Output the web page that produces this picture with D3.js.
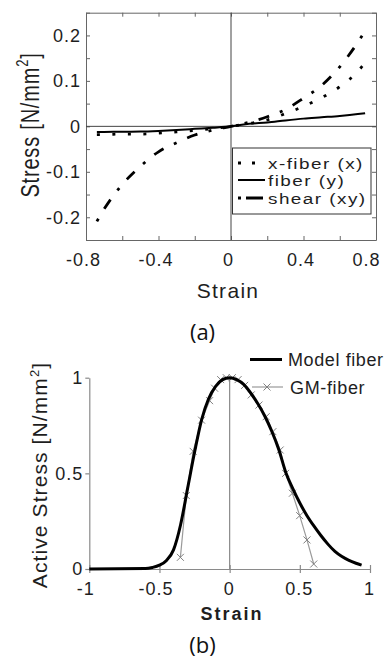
<!DOCTYPE html>
<html>
<head>
<meta charset="utf-8">
<script src="https://cdnjs.cloudflare.com/ajax/libs/d3/7.8.5/d3.min.js"></script>
<style>
body { margin:0; background:#fff; }
svg { display:block; font-family:"Liberation Sans", Arial, sans-serif; }
.axisA path, .axisA line { stroke:#666; stroke-width:1; }
.axisB path, .axisB line { stroke:#8a8a8a; stroke-width:1.2; }
.axisA text, .axisB text { font-size:18px; fill:#1e1e1e; letter-spacing:1px; }
.zeroA { stroke:#444; stroke-width:1; }
.zeroB { stroke:#8a8a8a; stroke-width:1.2; }
.title { fill:#1e1e1e; }
.caption { font-family:"Open Sans", sans-serif; font-size:22px; fill:#111; }
.x-fiber { fill:none; stroke:#000; stroke-width:2.8; stroke-dasharray:3,12.5; }
.fiber { fill:none; stroke:#000; stroke-width:2; }
.shear { fill:none; stroke:#000; stroke-width:2.8; stroke-dasharray:3,11.5,11,11.5; }
.model-line { fill:none; stroke:#000; stroke-width:3; }
.gm-line { fill:none; stroke:#9a9a9a; stroke-width:1.2; }
.gm-mark { stroke:#808080; stroke-width:1; }
</style>
</head>
<body>
<div id="chart"></div>
<script>
/* (a) stress vs strain */
var strainA = [-0.74, -0.7, -0.6, -0.5, -0.4, -0.3, -0.2, -0.1, 0, 0.1, 0.2, 0.3, 0.4, 0.5, 0.6, 0.7, 0.74]
var xFiberA = [-0.018, -0.018, -0.017, -0.017, -0.015, -0.012, -0.009, -0.005, 0, 0.006, 0.014, 0.028, 0.044, 0.063, 0.087, 0.121, 0.14]
var fiberA = [-0.0125, -0.0123, -0.012, -0.0115, -0.01, -0.008, -0.0055, -0.003, 0, 0.0055, 0.0085, 0.013, 0.017, 0.02, 0.023, 0.027, 0.029]
var shearA = [-0.209, -0.182, -0.128, -0.088, -0.056, -0.036, -0.019, -0.008, 0, 0.009, 0.021, 0.037, 0.062, 0.09, 0.131, 0.185, 0.21]
var xTicksA = [-0.8, -0.6, -0.4, -0.2, 0, 0.2, 0.4, 0.6, 0.8]
var xLabelsA = [-0.8, -0.4, 0, 0.4, 0.8]
var yTicksA = [-0.25, -0.2, -0.15, -0.1, -0.05, 0, 0.05, 0.1, 0.15, 0.2, 0.25]
var yLabelsA = [-0.2, -0.1, 0, 0.1, 0.2]
var legendA = ["x-fiber (x)", "fiber (y)", "shear (xy)"]

/* (b) active stress vs strain */
var strainModel = [-1, -0.6, -0.55, -0.5, -0.45, -0.4, -0.35, -0.3, -0.25, -0.2, -0.15, -0.1, -0.05, 0, 0.05, 0.1, 0.15, 0.2, 0.25, 0.3, 0.35, 0.4, 0.45, 0.5, 0.55, 0.6, 0.65, 0.7, 0.75, 0.8, 0.85, 0.9, 0.94]
var stressModel = [0, 0.002, 0.008, 0.02, 0.045, 0.1, 0.23, 0.42, 0.61, 0.78, 0.89, 0.955, 0.99, 1.0, 0.99, 0.965, 0.92, 0.865, 0.8, 0.72, 0.625, 0.505, 0.42, 0.345, 0.28, 0.225, 0.175, 0.13, 0.092, 0.065, 0.045, 0.03, 0.02]
var strainGM = [-0.351, -0.309, -0.26, -0.2, -0.143, -0.107, -0.064, -0.024, 0.019, 0.06, 0.107, 0.154, 0.209, 0.26, 0.308, 0.36, 0.399, 0.447, 0.499, 0.551, 0.599]
var stressGM = [0.061, 0.384, 0.615, 0.778, 0.88, 0.945, 0.99, 1.0, 1.0, 0.99, 0.96, 0.91, 0.857, 0.796, 0.718, 0.622, 0.5, 0.396, 0.279, 0.152, 0.026]
var xTicksB = [-1, -0.5, 0, 0.5, 1]
var yTicksB = [0, 0.5, 1]
var legendB = ["Model fiber", "GM-fiber"]

var svg = d3.select("#chart").append("svg")
  .attr("width", 387)
  .attr("height", 659)

function hasValue(list, d) {
  return list.some(function(v) { return Math.abs(v - d) < 1e-9 })
}
function labelFrom(list) {
  return function(d) { return hasValue(list, d) ? String(d) : "" }
}
function addText(str, x, y, size, sx, rot) {
  return svg.append("text")
    .attr("class", "title")
    .attr("font-size", size)
    .attr("transform", "translate(" + x + "," + y + ") scale(" + sx + ",1)" + (rot ? " rotate(" + rot + ")" : ""))
    .text(str)
}

/* ---------- panel (a) ---------- */
var xA = d3.scaleLinear().domain([-0.8, 0.8]).range([86, 376])
var yA = d3.scaleLinear().domain([-0.25, 0.25]).range([240, 12.7])

var botA = svg.append("g")
  .attr("class", "axisA")
  .attr("transform", "translate(0," + yA(-0.25) + ")")
  .call(d3.axisBottom(xA).tickValues(xTicksA).tickSize(-4).tickSizeOuter(0).tickPadding(13).tickFormat(labelFrom(xLabelsA)))
botA.selectAll("text").attr("dx", "-3px")
botA.selectAll("text").filter(function(d) { return d === 0.8 })
  .attr("text-anchor", "end")
  .attr("dx", "4px")
svg.append("g")
  .attr("class", "axisA")
  .attr("transform", "translate(0," + yA(0.25) + ")")
  .call(d3.axisTop(xA).tickValues(xTicksA).tickSize(-4).tickSizeOuter(0).tickFormat(""))
svg.append("g")
  .attr("class", "axisA")
  .attr("transform", "translate(" + xA(-0.8) + ",0)")
  .call(d3.axisLeft(yA).tickValues(yTicksA).tickSize(-4).tickSizeOuter(0).tickPadding(5).tickFormat(labelFrom(yLabelsA)))
svg.append("g")
  .attr("class", "axisA")
  .attr("transform", "translate(" + xA(0.8) + ",0)")
  .call(d3.axisRight(yA).tickValues(yTicksA).tickSize(-4).tickSizeOuter(0).tickFormat(""))

svg.append("line")
  .attr("class", "zeroA")
  .attr("x1", xA(0)).attr("x2", xA(0))
  .attr("y1", yA(0.25)).attr("y2", yA(-0.25))
svg.append("line")
  .attr("class", "zeroA")
  .attr("x1", xA(-0.8)).attr("x2", xA(0.8))
  .attr("y1", yA(0)).attr("y2", yA(0))

function lineA(values) {
  return d3.line()
    .x(function(d, i) { return xA(strainA[i]) })
    .y(function(d) { return yA(d) })
    .curve(d3.curveMonotoneX)(values)
}
svg.append("path").attr("class", "fiber").attr("d", lineA(fiberA))
svg.append("path").attr("class", "x-fiber").attr("d", lineA(xFiberA))
svg.append("path").attr("class", "shear").attr("d", lineA(shearA))

/* legend (a) */
svg.append("rect")
  .attr("x", 232.5).attr("y", 148)
  .attr("width", 138.5).attr("height", 66)
  .attr("fill", "#fff")
  .attr("stroke", "#333")
  .attr("stroke-width", 1)
var legRowsA = [163, 180, 198]
var legClassA = ["x-fiber", "fiber", "shear"]
var legDashA = ["3,11", null, "3,5,17,10"]
legendA.forEach(function(name, i) {
  svg.append("line")
    .attr("class", legClassA[i])
    .attr("x1", 238).attr("x2", 265)
    .attr("y1", legRowsA[i]).attr("y2", legRowsA[i])
    .style("stroke-dasharray", legDashA[i])
  addText(name, 268, legRowsA[i] + 5.5, 15.5, 1.22, 0).attr("letter-spacing", "1.2px")
})

/* titles (a) */
addText("Strain", 228, 298, 21, 1, 0)
  .attr("text-anchor", "middle")
  .attr("letter-spacing", "1.3px")
var yTitleA = addText("", 38.5, 125, 20, 1.3, -90)
  .attr("text-anchor", "middle")
  .attr("letter-spacing", "0.8px")
yTitleA.append("tspan").text("Stress [N/mm")
yTitleA.append("tspan").attr("dy", -8).attr("font-size", 13).text("2")
yTitleA.append("tspan").attr("dy", 8).text("]")

svg.append("text")
  .attr("class", "caption")
  .attr("x", 202.5).attr("y", 340)
  .attr("text-anchor", "middle")
  .text("(a)")

/* ---------- panel (b) ---------- */
var xB = d3.scaleLinear().domain([-1, 1]).range([89.3, 370])
var yB = d3.scaleLinear().domain([0, 1]).range([569, 377.7])

var botB = svg.append("g")
  .attr("class", "axisB")
  .attr("transform", "translate(0," + yB(0) + ")")
  .call(d3.axisBottom(xB).tickValues(xTicksB).tickSize(4).tickSizeOuter(0).tickPadding(9).tickFormat(String))
botB.selectAll(".tick line").attr("y1", -4)
botB.selectAll("text").attr("dx", function(d) { return d < 0 ? "-4px" : "-1px" })
svg.append("g")
  .attr("class", "axisB")
  .attr("transform", "translate(" + xB(-1) + ",0)")
  .call(d3.axisLeft(yB).tickValues(yTicksB).tickSize(4).tickSizeOuter(0).tickPadding(2).tickFormat(String))

svg.append("line")
  .attr("class", "zeroB")
  .attr("x1", xB(0)).attr("x2", xB(0))
  .attr("y1", yB(0)).attr("y2", yB(1))

var gmLine = d3.line()
  .x(function(d, i) { return xB(strainGM[i]) })
  .y(function(d) { return yB(d) })
svg.append("path").attr("class", "gm-line").attr("d", gmLine(stressGM))

function xMark(cx, cy) {
  var s = 3.5
  svg.append("line").attr("class", "gm-mark")
    .attr("x1", cx - s).attr("x2", cx + s).attr("y1", cy - s).attr("y2", cy + s)
  svg.append("line").attr("class", "gm-mark")
    .attr("x1", cx - s).attr("x2", cx + s).attr("y1", cy + s).attr("y2", cy - s)
}
stressGM.forEach(function(d, i) { xMark(xB(strainGM[i]), yB(d)) })

var modelLine = d3.line()
  .x(function(d, i) { return xB(strainModel[i]) })
  .y(function(d) { return yB(d) })
  .curve(d3.curveMonotoneX)
svg.append("path").attr("class", "model-line").attr("d", modelLine(stressModel))

/* legend (b) */
svg.append("line").attr("class", "model-line")
  .attr("x1", 250).attr("x2", 282).attr("y1", 359.5).attr("y2", 359.5)
addText(legendB[0], 288, 366, 18, 1, 0).attr("letter-spacing", "0.6px")
svg.append("line").attr("class", "gm-line")
  .attr("x1", 252).attr("x2", 283).attr("y1", 387).attr("y2", 387)
xMark(267, 387)
addText(legendB[1], 290, 393.5, 18, 1, 0).attr("letter-spacing", "0.65px")

/* titles (b) */
addText("Strain", 232, 619.5, 18, 1, 0)
  .attr("text-anchor", "middle")
  .attr("font-weight", "bold")
  .attr("letter-spacing", "2px")
var yTitleB = addText("", 46.5, 475, 21, 1, -90)
  .attr("text-anchor", "middle")
  .attr("letter-spacing", "1.1px")
yTitleB.append("tspan").text("Active Stress [N/mm")
yTitleB.append("tspan").attr("dy", -8).attr("font-size", 13).text("2")
yTitleB.append("tspan").attr("dy", 8).text("]")

svg.append("text")
  .attr("class", "caption")
  .attr("x", 202.5).attr("y", 653)
  .attr("text-anchor", "middle")
  .text("(b)")
</script>
</body>
</html>
